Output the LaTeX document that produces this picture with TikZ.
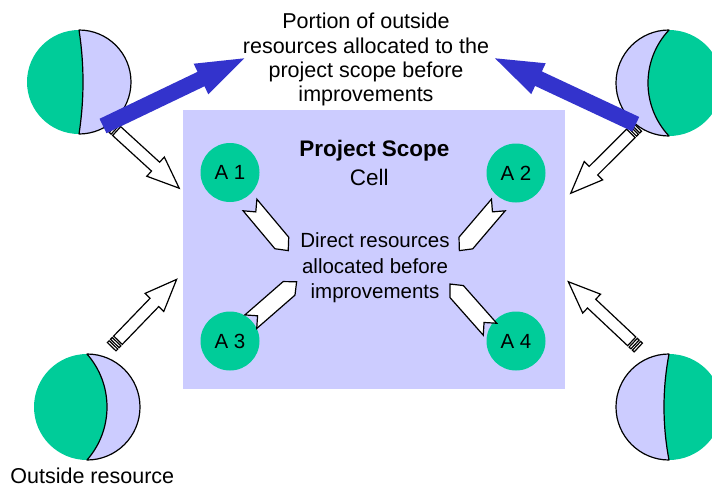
\documentclass[tikz,border=0pt]{standalone}
\usepackage{fontspec}
\setmainfont{Liberation Sans}
\usetikzlibrary{calc}
\definecolor{grn}{HTML}{00CC99}
\definecolor{lav}{HTML}{CCCCFF}
\definecolor{blu}{HTML}{3333CC}

\newcommand\arrowdir[2]{%
  \pgfmathanglebetweenpoints{\pgfpointanchor{#1}{center}}{\pgfpointanchor{#2}{center}}%
  \global\let\myang\pgfmathresult
  \pgfpointdiff{\pgfpointanchor{#1}{center}}{\pgfpointanchor{#2}{center}}%
  \pgfgetlastxy{\mydx}{\mydy}%
  \pgfmathsetmacro\mylen{veclen(\mydx,\mydy)}%
  \global\let\mylen\mylen}

\newcommand\hollowarrow[2]{%
  \arrowdir{#1}{#2}%
  \begin{scope}[shift={(#1)}, rotate=\myang]
    \draw[hollowarr] (0,-6) rectangle (2.5,6);
    \draw[hollowarr] (4.5,-6) rectangle (7,6);
    \draw[hollowarr] (9,-6) -- (\mylen-32,-6) -- (\mylen-32,-13) -- (\mylen,0)
      -- (\mylen-32,13) -- (\mylen-32,6) -- (9,6) -- cycle;
  \end{scope}}

\newcommand\bluearrow[2]{%
  \arrowdir{#1}{#2}%
  \begin{scope}[shift={(#1)}, rotate=\myang]
    \fill[blu] (0,-8) -- (\mylen-48,-8) -- (\mylen-48,-17) -- (\mylen,0)
      -- (\mylen-48,17) -- (\mylen-48,8) -- (0,8) -- cycle;
  \end{scope}}

\newcommand\notcharrow[2]{%
  \arrowdir{#1}{#2}%
  \begin{scope}[shift={(#1)}, rotate=\myang]
    \draw[hollowarr] (0,-9) -- (\mylen-10,-9) -- (\mylen,0) -- (\mylen-10,9)
      -- (0,9) -- (9,0) -- cycle;
  \end{scope}}

\begin{document}
\begin{tikzpicture}[x=1pt,y=-1pt,
  lbl/.style={inner sep=0pt, outer sep=0pt, text=black},
  acirc/.style={circle, fill=grn, minimum size=59pt, inner sep=0pt, outer sep=0pt,
    font=\fontsize{20.5}{24}\selectfont},
  outerres/.style={circle, fill=grn, minimum size=#1, inner sep=0pt, outer sep=0pt},
  lavpart/.style={fill=lav, draw=black, line width=1.2pt, line join=round},
  hollowarr/.style={fill=white, draw=black, line width=1.2pt, line join=miter},
]
\useasboundingbox (0,0) rectangle (712,491);

% project scope cell
\node[fill=lav, minimum width=382pt, minimum height=279pt, inner sep=0pt, outer sep=0pt] (cell) at (374,249.5) {};

% direct resources
\node[acirc] (A1) at (230,172.5) {A 1};
\node[acirc] (A2) at (516,173) {A 2};
\node[acirc] (A3) at (230,341) {A 3};
\node[acirc] (A4) at (516,341) {A 4};

\coordinate (n1t) at (250,205);     \coordinate (n1h) at (288.3,250.7);
\coordinate (n2t) at (498.3,205);   \coordinate (n2h) at (459.3,250.7);
\coordinate (n3t) at (250.8,321.7); \coordinate (n3h) at (296.7,281.7);
\coordinate (n4t) at (490,329.2);   \coordinate (n4h) at (450,284);
\notcharrow{n1t}{n1h}
\notcharrow{n2t}{n2h}
\notcharrow{n3t}{n3h}
\notcharrow{n4t}{n4h}

% texts
\node[lbl, anchor=north, align=center, font=\fontsize{21.5}{24.2}\selectfont] (portion) at (366,13.3)
  {Portion of outside\\resources allocated to the\\project scope before\\improvements};
\node[lbl, anchor=base, font=\bfseries\fontsize{22.5}{27}\selectfont] (pstitle) at (374.3,156.7) {Project Scope};
\node[lbl, anchor=base, font=\fontsize{22.5}{27}\selectfont] (celltxt) at (369.2,185.7) {Cell};
\node[lbl, anchor=north, align=center, font=\fontsize{20.5}{25.5}\selectfont] (direct) at (375,233)
  {Direct resources\\allocated before\\improvements};
\node[lbl, anchor=base, font=\fontsize{21.5}{26}\selectfont] (outs) at (92.3,483) {Outside resource};

% outside resources (green disc + outlined lavender crescent)
\node[outerres=104pt] (o1) at (79,82) {};
\draw[lavpart] (o1.north) arc[start angle=-90, end angle=90, radius=52]
  arc[start angle=8.80, end angle=-8.80, radius=340] -- cycle;
\node[outerres=106pt] (o2) at (669,83) {};
\draw[lavpart] (o2.north) arc[start angle=270, end angle=90, radius=53]
  arc[start angle=136.77, end angle=223.23, radius=77.38] -- cycle;
\node[outerres=106pt] (o3) at (87,407) {};
\draw[lavpart] (o3.north) arc[start angle=-90, end angle=90, radius=53]
  arc[start angle=41.36, end angle=-41.36, radius=80.2] -- cycle;
\node[outerres=106pt] (o4) at (669,407) {};
\draw[lavpart] (o4.north) arc[start angle=270, end angle=90, radius=53]
  arc[start angle=169.22, end angle=190.78, radius=283.4] -- cycle;

% hollow arrows
\coordinate (h1t) at (110,125);     \coordinate (h1h) at (179.3,188.3);
\coordinate (h2t) at (637.3,127);   \coordinate (h2h) at (570.7,193.3);
\coordinate (h3t) at (111.7,346.7); \coordinate (h3h) at (176.7,279.3);
\coordinate (h4t) at (638.3,347.5); \coordinate (h4h) at (568.3,281.7);
\hollowarrow{h1t}{h1h}
\hollowarrow{h2t}{h2h}
\hollowarrow{h3t}{h3h}
\hollowarrow{h4t}{h4h}

% blue arrows
\coordinate (b1t) at (103,126);     \coordinate (b1h) at (244.3,58.3);
\coordinate (b2t) at (635.8,124.2); \coordinate (b2h) at (495,58.3);
\bluearrow{b1t}{b1h}
\bluearrow{b2t}{b2h}
\end{tikzpicture}
\end{document}
